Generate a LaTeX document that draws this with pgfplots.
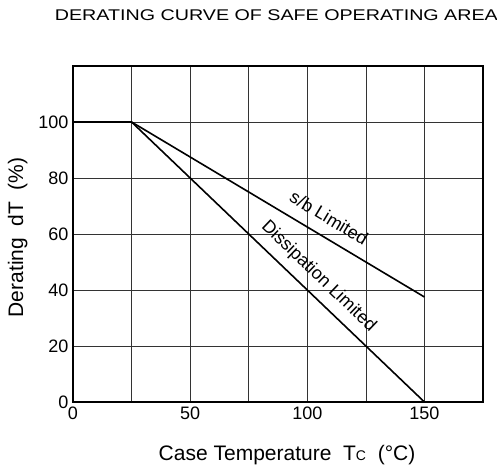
\documentclass[border=0pt]{standalone}
\usepackage{pgfplots}
\pgfplotsset{compat=1.18}
\usepackage{fontspec}
\setmainfont{Liberation Sans}
\begin{document}
\begin{tikzpicture}[x=1pt,y=1pt]
\path[use as bounding box] (-73,-68) rectangle (424,402);
\begin{axis}[
  at={(0,0)}, anchor=south west,
  scale only axis, width=410pt, height=336pt,
  xmin=0, xmax=175, ymin=0, ymax=120,
  xtick={0,25,50,75,100,125,150,175},
  xticklabels={0,,50,,100,,150,},
  ytick={0,20,40,60,80,100},
  major tick length=0pt,
  grid=major,
  grid style={black!80, line width=0.7pt},
  axis line style={line width=1.8pt},
  /pgf/number format/assume math mode=true,
  tick label style={font=\fontsize{18}{18}\selectfont},
  xticklabel style={yshift=-1pt},
  yticklabel style={xshift=-1pt},
  xlabel={Case Temperature\ \ T{\fontsize{14}{14}\selectfont C}\ \ (\textdegree C)},
  xlabel style={at={(axis description cs:0.522,-0.158)}, anchor=center, font=\fontsize{21}{21}\selectfont},
  ylabel={Derating\ \ dT\ \ (\%)},
  ylabel style={at={(axis description cs:-0.135,0.49)}, anchor=center, rotate=0, font=\fontsize{21}{21}\selectfont},
  title={DERATING CURVE OF SAFE OPERATING AREA},
  title style={at={(axis description cs:0.496,1.132)}, anchor=center, font=\fontsize{15.5}{15.5}\selectfont, xscale=1.27},
  clip=false,
]
\addplot[black, line width=1.6pt] coordinates {(0,100) (25,100) (150,37.5)};
\addplot[black, line width=1.6pt] coordinates {(25,100) (150,0)};
\node[rotate=-30.9, font=\fontsize{18}{18}\selectfont, anchor=center] at (axis cs:109.3,65.8) {s/b Limited};
\node[rotate=-43.8, font=\fontsize{18}{18}\selectfont, anchor=center] at (axis cs:104.8,44.8) {Dissipation Limited};
\end{axis}
\end{tikzpicture}
\end{document}
